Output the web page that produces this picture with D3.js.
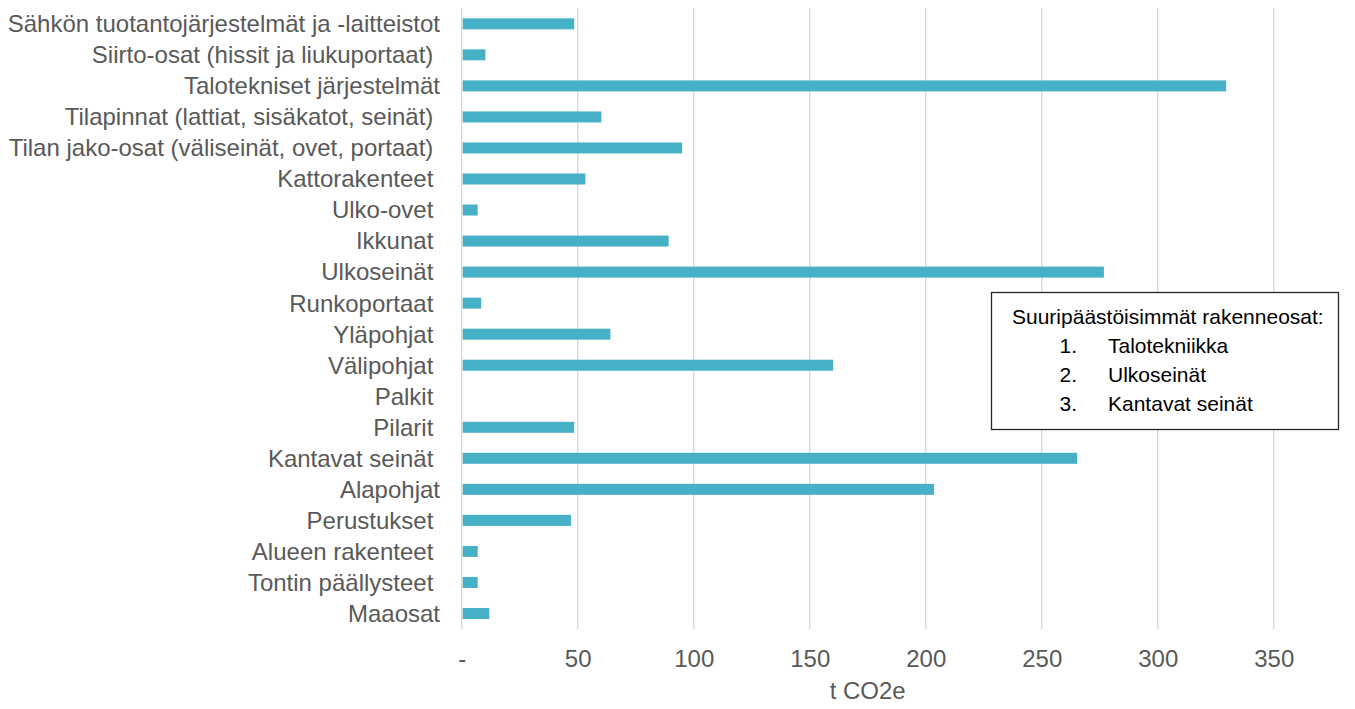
<!DOCTYPE html>
<html>
<head>
<meta charset="utf-8">
<script src="https://cdn.jsdelivr.net/npm/d3@7"></script>
<style>
  body { margin: 0; background: #fff; }
  text { font-family: "Liberation Sans", Arial, sans-serif; white-space: pre; }
</style>
</head>
<body>
<div id="chart-container"></div>
<script>
// Rakenneosat (some labels carry a trailing space like in the source sheet)
const categories = [
    "Sähkön tuotantojärjestelmät ja -laitteistot",
    "Siirto-osat (hissit ja liukuportaat) ",
    "Talotekniset järjestelmät",
    "Tilapinnat (lattiat, sisäkatot, seinät) ",
    "Tilan jako-osat (väliseinät, ovet, portaat) ",
    "Kattorakenteet ",
    "Ulko-ovet ",
    "Ikkunat ",
    "Ulkoseinät ",
    "Runkoportaat ",
    "Yläpohjat ",
    "Välipohjat ",
    "Palkit ",
    "Pilarit ",
    "Kantavat seinät ",
    "Alapohjat",
    "Perustukset ",
    "Alueen rakenteet ",
    "Tontin päällysteet ",
    "Maaosat"
];

// Päästöt, t CO2e
const emissions = [48.5, 10.2, 329.5, 60.2, 95.0, 53.3, 6.9, 89.2, 276.8, 8.4,
                   64.1, 160.1, 0, 48.5, 265.3, 203.6, 47.1, 6.9, 6.9, 11.9];

const xTicks = [0, 50, 100, 150, 200, 250, 300, 350];
const xTitle = "t CO2e";

const legendTitle = "Suuripäästöisimmät rakenneosat:";
const legendItems = ["Talotekniikka", "Ulkoseinät", "Kantavat seinät"];

const data = categories.map((c, i) => ({ name: c, value: emissions[i] }));

const width = 1355;
const height = 709;
const labelSize = "24px";

const svg = d3.select("#chart-container")
    .append("svg")
    .attr("width", width)
    .attr("height", height);

// Scales
const xScale = d3.scaleLinear()
    .domain([0, 350])
    .range([461.7, 1273.7]);

const yScale = d3.scaleBand()
    .domain(categories)
    .range([8.3, 629])
    .paddingInner(0.646)
    .paddingOuter(0.323);

// Gridlines
svg.append("g")
    .selectAll("line")
    .data(xTicks)
    .enter()
    .append("line")
    .attr("x1", d => xScale(d))
    .attr("x2", d => xScale(d))
    .attr("y1", 8)
    .attr("y2", 629)
    .attr("stroke", "#d9d9d9")
    .attr("stroke-width", 1.4);

// Bars
svg.append("g")
    .selectAll("rect")
    .data(data)
    .enter()
    .append("rect")
    .attr("x", xScale(0) + 1)
    .attr("y", d => yScale(d.name))
    .attr("width", d => Math.max(0, xScale(d.value) - xScale(0) - 1))
    .attr("height", yScale.bandwidth())
    .attr("fill", "#46b1c6");

// Category labels
svg.append("g")
    .selectAll("text")
    .data(categories)
    .enter()
    .append("text")
    .attr("x", 440)
    .attr("y", d => yScale(d) + yScale.bandwidth() / 2)
    .attr("dy", "0.35em")
    .attr("text-anchor", "end")
    .attr("font-size", labelSize)
    .attr("fill", "#595959")
    .text(d => d);

// X axis tick labels
const xAxis = svg.append("g")
    .attr("transform", "translate(0, 667)")
    .call(d3.axisBottom(xScale)
        .tickValues(xTicks)
        .tickSize(0)
        .tickPadding(0)
        .tickFormat(d => d === 0 ? "-" : d));

xAxis.select(".domain").remove();
xAxis.selectAll("text")
    .attr("dy", 0)
    .attr("y", 0)
    .attr("font-size", labelSize)
    .attr("font-family", "Liberation Sans, Arial, sans-serif")
    .attr("fill", "#595959");

// X axis title
svg.append("text")
    .attr("x", (xScale(0) + xScale(350)) / 2)
    .attr("y", 699)
    .attr("text-anchor", "middle")
    .attr("font-size", labelSize)
    .attr("fill", "#595959")
    .text(xTitle);

// Text box
const box = svg.append("g");
box.append("rect")
    .attr("x", 991.5)
    .attr("y", 292.5)
    .attr("width", 347)
    .attr("height", 137)
    .attr("fill", "#fff")
    .attr("stroke", "#262626")
    .attr("stroke-width", 1.3);

box.append("text")
    .attr("x", 1012)
    .attr("y", 324)
    .attr("font-size", "21px")
    .attr("fill", "#000")
    .text(legendTitle);

legendItems.forEach((item, i) => {
    box.append("text")
        .attr("x", 1059.5)
        .attr("y", 353 + i * 29.2)
        .attr("font-size", "21px")
        .attr("fill", "#000")
        .text((i + 1) + ".");
    box.append("text")
        .attr("x", 1108)
        .attr("y", 353 + i * 29.2)
        .attr("font-size", "21px")
        .attr("fill", "#000")
        .text(item);
});
</script>
</body>
</html>
